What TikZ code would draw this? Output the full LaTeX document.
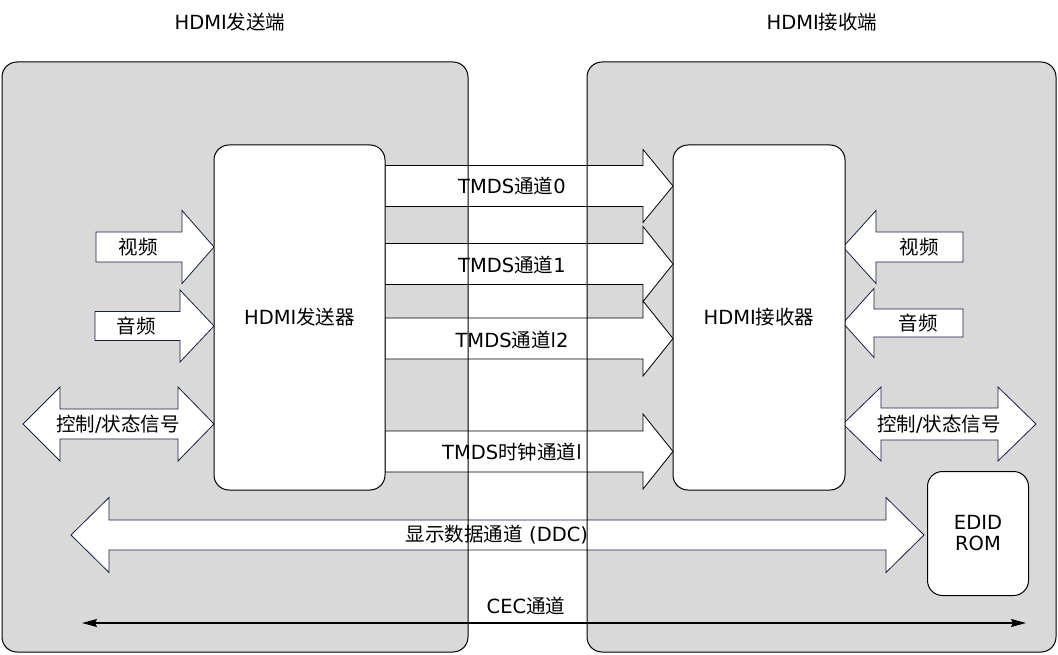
\documentclass[tikz,border=0pt]{standalone}
\usepackage{fontspec}
\setmainfont{DejaVu Sans}
\newfontfamily\cjk{Noto Sans CJK SC}
\usetikzlibrary{arrows.meta}

\definecolor{panelgray}{RGB}{217,217,217}
\definecolor{arrowline}{RGB}{25,32,64}

% block arrow: tail x, tip x, head base x, centre y, half shaft, half head
\newcommand{\blockarrow}[7][arrowline]{%
  \draw[blockline, draw = #1] (#2,#5-#6) -- (#4,#5-#6) -- (#4,#5-#7) -- (#3,#5)
    -- (#4,#5+#7) -- (#4,#5+#6) -- (#2,#5+#6) -- cycle;}
% double block arrow: left tip, right tip, left base, right base, centre y, half shaft, half head
\newcommand{\twowayarrow}[7]{%
  \draw[blockline] (#1,#5) -- (#3,#5-#7) -- (#3,#5-#6) -- (#4,#5-#6) -- (#4,#5-#7)
    -- (#2,#5) -- (#4,#5+#7) -- (#4,#5+#6) -- (#3,#5+#6) -- (#3,#5+#7) -- cycle;}

\begin{document}
\begin{tikzpicture}[x = 1pt, y = -1pt, line width = 1pt,
                    every node/.style = {font = \fontsize{19.5}{23}\selectfont},
                    blockline/.style = {draw = arrowline, fill = white, line width = 0.8pt},
                    box/.style = {draw, fill = white, rounded corners = 15pt, align = center}]
      \useasboundingbox (0, 0) rectangle (1058, 655);

      % panels
      \fill [panelgray, rounded corners = 15pt] (2, 62) rectangle (468, 652);
      \fill [panelgray, rounded corners = 15pt] (587, 62) rectangle (1056, 652);

      \node (srctitle) at (230, 22) {HDMI{\cjk 发送端}};
      \node (sinktitle) at (822, 22) {HDMI{\cjk 接收端}};

      % TMDS channels
      \blockarrow[black]{385}{673}{643}{186}{20.5}{36.5}
      \blockarrow[black]{385}{673}{643}{264}{20.5}{37.5}
      \blockarrow[black]{385}{673}{643}{338.5}{20.5}{37.5}
      \blockarrow[black]{385}{673}{643}{451.5}{20.5}{37.5}

      % inputs and outputs
      \blockarrow{96}{214}{182}{247}{15}{36.5}
      \blockarrow{95}{214}{180}{326}{14.5}{36}
      \blockarrow{963}{843}{876}{247}{15}{36.5}
      \blockarrow{963}{843}{874}{323}{14}{34.5}
      \twowayarrow{23}{214}{60}{178}{424}{15}{37}
      \twowayarrow{843}{1036}{881}{998}{424}{16}{37}
      \twowayarrow{71}{924}{109}{886}{535}{15}{37.5}

      \draw [rounded corners = 15pt] (2, 62) rectangle (468, 652);
      \draw [rounded corners = 15pt] (587, 62) rectangle (1056, 652);

      \node [box, minimum width = 171pt, minimum height = 345pt] (tx) at (299.5, 317.5) {HDMI{\cjk 发送器}};
      \node [box, minimum width = 172pt, minimum height = 345pt] (rx) at (759, 317.5) {HDMI{\cjk 接收器}};
      \node [box, minimum width = 101pt, minimum height = 124pt] (edid) at (978, 533.5) {EDID\\[-2pt]ROM};

      \node (ch0) at (512, 186) {TMDS{\cjk 通道}0};
      \node (ch1) at (512, 265) {TMDS{\cjk 通道}1};
      \node (ch2) at (512, 340) {TMDS{\cjk 通道}l2};
      \node (clk) at (512, 452) {TMDS{\cjk 时钟通道}l};

      \node (vin) at (138, 247) {\cjk 视频};
      \node (ain) at (136, 326) {\cjk 音频};
      \node (ctlin) at (118, 424) {{\cjk 控制}/{\cjk 状态信号}};
      \node (vout) at (919, 247) {\cjk 视频};
      \node (aout) at (918, 323) {\cjk 音频};
      \node (ctlout) at (939, 424) {{\cjk 控制}/{\cjk 状态信号}};
      \node (ddc) at (497, 535) {{\cjk 显示数据通道} (DDC)};

      % CEC
      \coordinate (ceca) at (82, 623);
      \coordinate (cecb) at (1026, 623);
      \node (cec) at (526, 606) {CEC{\cjk 通道}};
      \draw [line width = 1.3pt, {Stealth[length = 15pt, width = 8pt, inset = 2pt]}-{Stealth[length = 15pt, width = 8pt, inset = 2pt]}] (ceca) -- (cecb);

      \end{tikzpicture}
\end{document}
